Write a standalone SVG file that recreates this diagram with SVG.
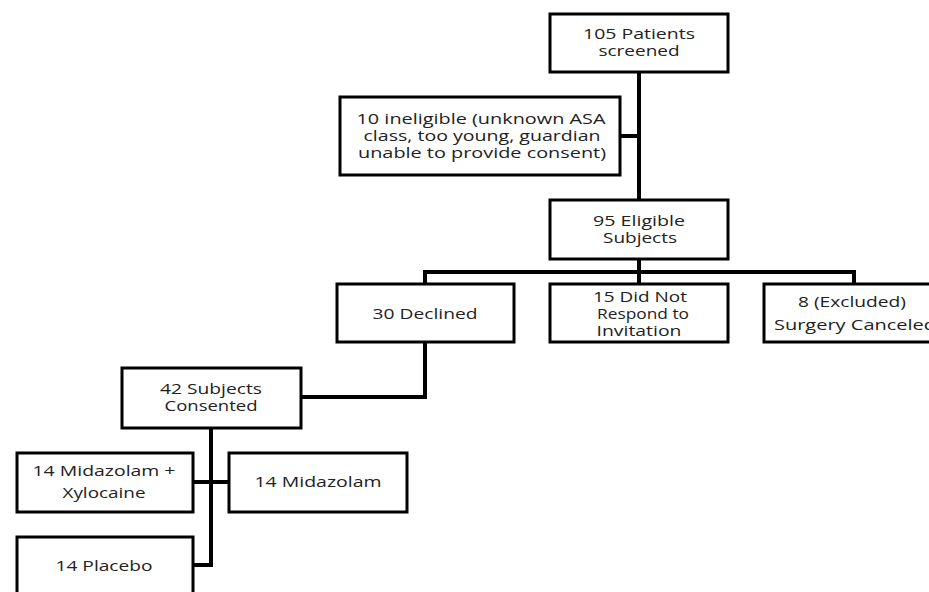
<svg xmlns="http://www.w3.org/2000/svg" width="929" height="592" viewBox="0 0 929 592">
<style>
.box{fill:#fff;stroke:#000;stroke-width:3}
.ln{fill:none;stroke:#000;stroke-width:4}
text{font-family:"Open Sans","Liberation Sans",sans-serif;font-size:14px;fill:#222;text-anchor:middle;dominant-baseline:central}
</style>
<rect width="929" height="592" fill="#fff"/>
<g id="connectors">
<path class="ln" d="M639 72V200"/>
<path class="ln" d="M620 136H639"/>
<path class="ln" d="M639 259V272"/>
<path class="ln" d="M425 284V272H854V284"/>
<path class="ln" d="M639 272V284"/>
<path class="ln" d="M425 342V397H301"/>
<path class="ln" d="M211 428V565H193"/>
<path class="ln" d="M193 482H229"/>
</g>
<g id="n105"><rect class="box" x="550" y="14" width="178" height="58"/><text x="639" y="33" textLength="112" lengthAdjust="spacingAndGlyphs">105 Patients</text><text x="639" y="50" textLength="81" lengthAdjust="spacingAndGlyphs">screened</text></g>
<g id="n10"><rect class="box" x="340" y="97" width="280" height="78"/><text x="481" y="118" textLength="249" lengthAdjust="spacingAndGlyphs">10 ineligible (unknown ASA</text><text x="482" y="135" textLength="237" lengthAdjust="spacingAndGlyphs">class, too young, guardian</text><text x="482" y="152" textLength="248" lengthAdjust="spacingAndGlyphs">unable to provide consent)</text></g>
<g id="n95"><rect class="box" x="550" y="200" width="178" height="59"/><text x="639" y="220" textLength="92" lengthAdjust="spacingAndGlyphs">95 Eligible</text><text x="640" y="237" textLength="74" lengthAdjust="spacingAndGlyphs">Subjects</text></g>
<g id="n30"><rect class="box" x="337" y="284" width="177" height="58"/><text x="425" y="313" textLength="105" lengthAdjust="spacingAndGlyphs">30 Declined</text></g>
<g id="n15"><rect class="box" x="550" y="284" width="178" height="58"/><text x="640" y="296" textLength="94" lengthAdjust="spacingAndGlyphs">15 Did Not</text><text x="643" y="313" textLength="92" lengthAdjust="spacingAndGlyphs">Respond to</text><text x="639" y="330" textLength="85" lengthAdjust="spacingAndGlyphs">Invitation</text></g>
<g id="n8"><rect class="box" x="764" y="284" width="180" height="58"/><text x="852" y="301" textLength="108" lengthAdjust="spacingAndGlyphs">8 (Excluded)</text><text x="855" y="324" textLength="162" lengthAdjust="spacingAndGlyphs">Surgery Canceled</text></g>
<g id="n42"><rect class="box" x="122" y="368" width="179" height="60"/><text x="211" y="388" textLength="102" lengthAdjust="spacingAndGlyphs">42 Subjects</text><text x="211" y="405" textLength="93" lengthAdjust="spacingAndGlyphs">Consented</text></g>
<g id="nMX"><rect class="box" x="17" y="453" width="176" height="59"/><text x="104" y="470" textLength="143" lengthAdjust="spacingAndGlyphs">14 Midazolam +</text><text x="104" y="492" textLength="83" lengthAdjust="spacingAndGlyphs">Xylocaine</text></g>
<g id="nM"><rect class="box" x="229" y="453" width="178" height="59"/><text x="318" y="481" textLength="127" lengthAdjust="spacingAndGlyphs">14 Midazolam</text></g>
<g id="nP"><rect class="box" x="17" y="537" width="176" height="70"/><text x="104" y="565" textLength="97" lengthAdjust="spacingAndGlyphs">14 Placebo</text></g>
</svg>
